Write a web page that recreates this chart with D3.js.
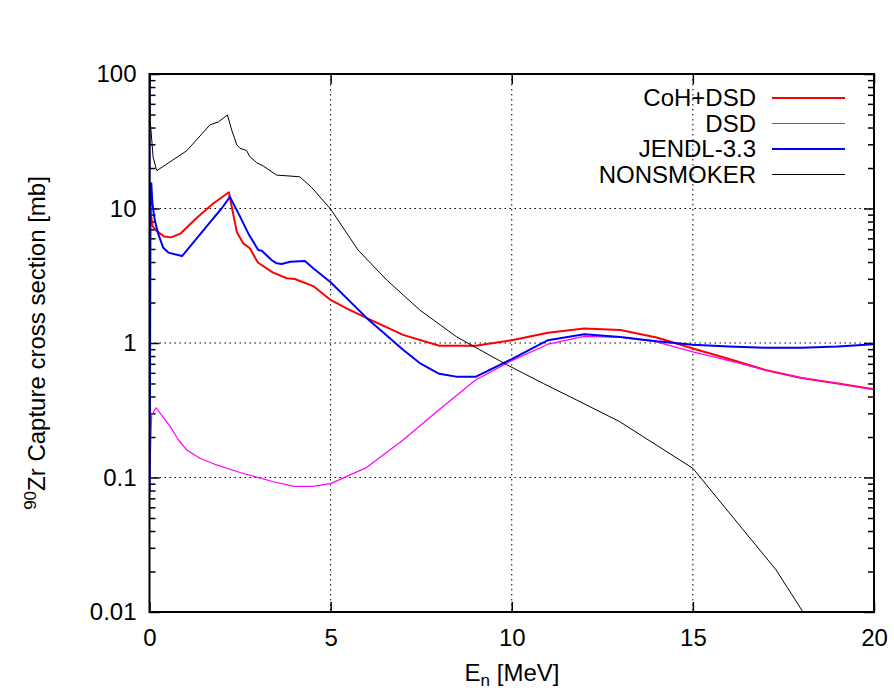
<!DOCTYPE html>
<html>
<head>
<meta charset="utf-8">
<script src="https://cdn.jsdelivr.net/npm/d3@7"></script>
<style>
  body { margin: 0; background: #fff; }
  svg { display: block; font-family: "Liberation Sans", Arial, sans-serif; }
</style>
</head>
<body>
<svg id="graph" width="894" height="691"></svg>
<script>

// data: [E (MeV), cross section (mb)]
var cohDsd = [[0.01,10.5],[0.08,7.4],[0.2,6.8],[0.4,6.2],[0.6,6.1],[0.85,6.5],[1.3,8.5],[1.76,10.9],
  [2.19,13.2],[2.41,6.7],[2.59,5.5],[2.77,5.06],[2.96,4.1],[3.0,3.95],[3.4,3.35],[3.79,3.03],[4.01,2.99],
  [4.52,2.65],[5.0,2.09],[5.44,1.81],[6.0,1.53],[7.0,1.15],[8.0,0.955],[9.0,0.955],[10,1.05],[11,1.19],
  [12,1.28],[13,1.25],[14,1.1],[15,0.91],[16,0.76],[17,0.63],[18,0.55],[19,0.5],[20,0.453]];

var dsd = [[0.003,0.1],[0.06,0.29],[0.18,0.33],[0.38,0.28],[0.57,0.24],[0.8,0.19],[1.03,0.16],[1.39,0.139],
  [1.85,0.124],[2.5,0.109],[3.42,0.093],[4.0,0.086],[4.5,0.086],[5.0,0.09],[6.0,0.119],[7.0,0.19],
  [8.0,0.32],[9.0,0.53],[10,0.74],[11,0.98],[12,1.12],[13,1.1],[14,1.02],[15,0.86],[16,0.74],[17,0.63],
  [18,0.55],[19,0.5],[20,0.45]];

var jendl = [[0,150],[0.004,0.08],[0.03,14],[0.05,15.4],[0.08,10.9],[0.12,9.1],[0.15,8.1],[0.24,6.5],
  [0.38,5.1],[0.52,4.7],[0.9,4.43],[1.72,8.2],[1.99,10],[2.22,12.2],[2.5,8.7],[2.73,6.5],[3.0,4.92],
  [3.1,4.85],[3.37,4.14],[3.51,3.91],[3.65,3.87],[3.88,4.02],[4.29,4.07],[4.52,3.59],[5.0,2.83],[6.0,1.53],
  [7.0,0.89],[7.46,0.71],[8.0,0.59],[8.5,0.56],[9.0,0.56],[10,0.76],[11,1.05],[12,1.16],[13,1.11],
  [14,1.03],[15,0.97],[16,0.94],[17,0.92],[18,0.92],[19,0.94],[20,0.98]];

var nonsmoker = [[0.005,90],[0.02,45],[0.1,24],[0.2,19.1],[1.03,26.9],[1.67,41.9],[1.9,44],[2.15,49.6],[2.27,38.3],
  [2.41,29.7],[2.5,28],[2.68,27],[2.77,24.3],[2.96,21.9],[3.14,20.7],[3.51,17.7],[3.79,17.5],[4.15,17.2],
  [4.47,14.4],[5.0,9.9],[5.76,4.9],[6.55,2.94],[7.46,1.76],[8.48,1.11],[9.12,0.89],[9.86,0.69],
  [10.87,0.5],[11.79,0.377],[12.98,0.26],[15,0.117],[17.3,0.0205],[18.04,0.01],[18.5,0.006]];

var xTicks = [0, 5, 10, 15, 20];
var yTicks = [0.01, 0.1, 1, 10, 100];
var yTickLabels = ["0.01", "0.1", "1", "10", "100"];
var legendNames = ["CoH+DSD", "DSD", "JENDL-3.3", "NONSMOKER"];


var plotLeft = 149.5, plotRight = 874, plotTop = 74, plotBottom = 612;
var svg = d3.select("#graph");

var xScale = d3.scaleLinear().domain([0, 20]).range([plotLeft, plotRight]);
var yScale = d3.scaleLog().domain([0.01, 100]).range([plotBottom, plotTop]);

var minorTicks = [];
for (var d = 0.01; d < 90; d *= 10)
  for (var k = 2; k <= 9; k++) minorTicks.push(d * k);


/* grid */
svg.append("g")
    .selectAll("line")
    .data(xTicks.slice(1, -1))
    .enter().append("line")
    .attr("x1", function(d) { return xScale(d); })
    .attr("x2", function(d) { return xScale(d); })
    .attr("y1", plotTop).attr("y2", plotBottom)
    .attr("stroke", "#000").attr("stroke-width", 1)
    .attr("stroke-dasharray", "1.5,3.5");

svg.append("g")
    .selectAll("line")
    .data(yTicks.slice(1, -1))
    .enter().append("line")
    .attr("y1", function(d) { return yScale(d); })
    .attr("y2", function(d) { return yScale(d); })
    .attr("x1", plotLeft).attr("x2", plotRight)
    .attr("stroke", "#000").attr("stroke-width", 1)
    .attr("stroke-dasharray", "1.5,3.5");


/* axes, ticks pointing inwards */
function styleAxis(g)
{
  g.select(".domain").remove();
  g.selectAll(".tick line").attr("stroke", "#000").attr("stroke-width", 1.5);
  g.selectAll("text").attr("font-size", 24).attr("fill", "#000")
    .attr("font-family", "'Liberation Sans', Arial, sans-serif");
}

svg.append("g")
    .attr("transform", "translate(" + plotLeft + ",0)")
    .call(d3.axisLeft(yScale).tickValues(yTicks).tickSize(-10).tickPadding(13)
          .tickFormat(function(d, i) { return yTickLabels[i]; }))
    .call(styleAxis);

svg.append("g")
    .attr("transform", "translate(" + plotLeft + ",0)")
    .call(d3.axisLeft(yScale).tickValues(minorTicks).tickSize(-6).tickFormat(""))
    .call(styleAxis);

svg.append("g")
    .attr("transform", "translate(" + plotRight + ",0)")
    .call(d3.axisRight(yScale).tickValues(yTicks).tickSize(-10).tickFormat(""))
    .call(styleAxis);

svg.append("g")
    .attr("transform", "translate(" + plotRight + ",0)")
    .call(d3.axisRight(yScale).tickValues(minorTicks).tickSize(-6).tickFormat(""))
    .call(styleAxis);

svg.append("g")
    .attr("transform", "translate(0," + plotBottom + ")")
    .call(d3.axisBottom(xScale).tickValues(xTicks).tickSize(-10).tickPadding(17)
          .tickFormat(d3.format("d")))
    .call(styleAxis);

svg.append("g")
    .attr("transform", "translate(0," + plotTop + ")")
    .call(d3.axisTop(xScale).tickValues(xTicks).tickSize(-10).tickFormat(""))
    .call(styleAxis);


/* curves */
svg.append("clipPath").attr("id", "plotClip")
    .append("rect")
    .attr("x", plotLeft).attr("y", plotTop)
    .attr("width", plotRight - plotLeft).attr("height", plotBottom - plotTop);

var line = d3.line()
    .x(function(d) { return xScale(d[0]); })
    .y(function(d) { return yScale(d[1]); });

var series = [
  { data: cohDsd,    color: "#ff0000", width: 2 },
  { data: dsd,       color: "#ff00ff", width: 1.2 },
  { data: jendl,     color: "#0000ff", width: 2 },
  { data: nonsmoker, color: "#000000", width: 1 }
];

var curves = svg.append("g").attr("clip-path", "url(#plotClip)");
series.forEach(function(s) {
  curves.append("path")
      .datum(s.data)
      .attr("fill", "none")
      .attr("stroke", s.color)
      .attr("stroke-width", s.width)
      .attr("stroke-linejoin", "round")
      .attr("d", line);
});


/* frame */
svg.append("rect")
    .attr("x", plotLeft).attr("y", plotTop)
    .attr("width", plotRight - plotLeft).attr("height", plotBottom - plotTop)
    .attr("fill", "none").attr("stroke", "#000").attr("stroke-width", 2);


/* legend */
var legend = svg.append("g");
legendNames.forEach(function(name, i) {
  var y = 98 + i * 25.5;
  legend.append("text")
      .attr("x", 756).attr("y", y).attr("dy", "0.35em")
      .attr("text-anchor", "end").attr("font-size", 24)
      .text(name);
  legend.append("line")
      .attr("x1", 772).attr("x2", 845)
      .attr("y1", y).attr("y2", y)
      .attr("stroke", series[i].color)
      .attr("stroke-width", series[i].width);
});


/* axis titles */
var xTitle = svg.append("text")
    .attr("x", 512).attr("y", 681)
    .attr("text-anchor", "middle").attr("font-size", 24);
xTitle.append("tspan").text("E");
xTitle.append("tspan").attr("font-size", 17).attr("dy", 5).text("n");
xTitle.append("tspan").attr("dy", -5).text(" [MeV]");

var yTitle = svg.append("text")
    .attr("transform", "translate(45," + ((plotTop + plotBottom) / 2) + ") rotate(-90)")
    .attr("text-anchor", "middle").attr("font-size", 24);
yTitle.append("tspan").attr("font-size", 17).attr("dy", -9).text("90");
yTitle.append("tspan").attr("dy", 9).text("Zr Capture cross section [mb]");

</script>
</body>
</html>
